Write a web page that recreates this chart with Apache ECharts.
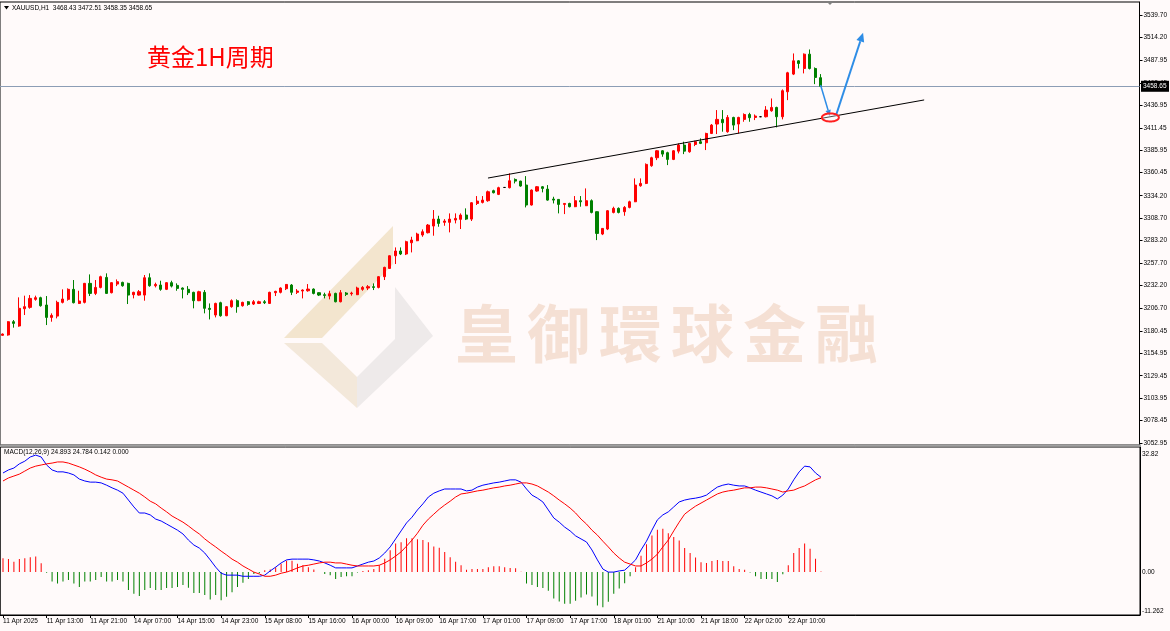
<!DOCTYPE html>
<html><head><meta charset="utf-8">
<script src="https://cdn.jsdelivr.net/npm/echarts@6/dist/echarts.min.js"></script>
<style>html,body{margin:0;padding:0;background:#fffafa;}#c{width:1170px;height:631px;}</style>
</head><body><div id="c"></div>
<script>
// ---------- DATA ----------
const tickLabels = ["11 Apr 2025","11 Apr 13:00","11 Apr 21:00","14 Apr 07:00","14 Apr 15:00","14 Apr 23:00","15 Apr 08:00","15 Apr 16:00","16 Apr 00:00","16 Apr 09:00","16 Apr 17:00","17 Apr 01:00","17 Apr 09:00","17 Apr 17:00","18 Apr 01:00","21 Apr 10:00","21 Apr 18:00","22 Apr 02:00","22 Apr 10:00"];
const opens = [
3175.4,3175.8,3190.9,3186.0,3205.7,3207.2,3216.3,3218.2,3209.9,3195.8,
3197.3,3212.9,3216.3,3227.7,3211.7,3212.9,3234.5,3223.1,3229.9,3241.3,
3223.9,3233.7,3235.6,3234.5,3221.6,3221.2,3221.2,3240.9,3231.8,3232.6,
3227.7,3235.3,3232.2,3229.2,3227.7,3224.3,3214.8,3224.3,3206.1,3198.5,
3212.5,3197.7,3208.0,3214.8,3209.1,3213.6,3211.0,3211.7,3213.6,3211.7,
3223.9,3224.3,3228.4,3232.6,3224.3,3225.8,3226.1,3228.0,3223.9,3221.6,
3220.1,3223.1,3213.6,3223.5,3222.7,3221.6,3227.7,3229.2,3230.7,3229.9,
3242.1,3251.5,3265.9,3271.3,3267.9,3280.7,3283.0,3289.5,3292.1,3299.7,
3307.6,3303.9,3303.9,3306.5,3307.3,3312.2,3307.6,3325.4,3326.6,3328.5,
3339.9,3335.7,3343.6,3343.3,3352.7,3350.8,3346.3,3323.6,3339.5,3344.4,
3341.7,3330.4,3330.0,3324.3,3325.4,3321.7,3328.5,3322.8,3328.5,3316.0,
3290.6,3296.3,3315.2,3319.8,3316.0,3320.9,3327.3,3345.5,3348.2,3368.3,
3377.4,3385.3,3383.1,3375.5,3384.9,3391.8,3384.2,3392.5,3395.6,3394.4,
3405.0,3415.7,3421.0,3407.0,3423.2,3415.7,3421.0,3426.6,3423.2,3424.0,
3424.0,3430.8,3434.6,3424.0,3452.4,3472.5,3487.6,3478.9,3495.2,3478.9,
3468.43];
const closes = [
3176.9,3190.9,3189.0,3206.1,3208.0,3217.4,3218.2,3209.1,3195.8,3198.1,
3212.9,3216.7,3227.7,3212.5,3214.4,3234.5,3223.1,3229.9,3242.1,3223.1,
3235.3,3236.4,3231.8,3221.2,3224.3,3225.0,3240.9,3231.8,3233.3,3227.7,
3235.3,3231.4,3228.8,3227.7,3223.9,3214.8,3225.0,3206.1,3204.9,3211.7,
3197.7,3208.0,3214.8,3208.0,3212.9,3210.6,3213.6,3213.6,3212.5,3224.3,
3225.4,3229.2,3233.3,3224.3,3225.8,3226.9,3228.0,3223.1,3221.2,3220.8,
3222.7,3213.6,3223.9,3222.0,3223.5,3229.2,3229.9,3230.7,3229.9,3242.1,
3252.7,3265.9,3271.3,3267.9,3281.9,3283.8,3290.6,3293.2,3300.8,3307.6,
3302.7,3305.4,3307.6,3308.4,3312.2,3307.6,3326.2,3328.1,3329.2,3338.7,
3337.6,3343.3,3343.6,3351.2,3350.8,3345.2,3323.6,3340.6,3344.4,3342.5,
3329.2,3329.2,3324.3,3325.4,3321.7,3328.5,3327.3,3328.5,3315.2,3291.3,
3297.0,3317.1,3319.8,3315.2,3320.9,3327.3,3346.3,3348.2,3369.8,3377.4,
3385.3,3381.5,3375.5,3385.3,3391.8,3384.9,3393.7,3395.6,3393.7,3405.0,
3414.5,3421.0,3417.2,3423.2,3414.5,3423.2,3426.6,3422.9,3424.8,3424.0,
3431.6,3434.6,3424.0,3453.6,3474.0,3487.6,3484.6,3495.2,3478.9,3468.7,
3458.65];
const lows = [
3174.8,3175.0,3184.1,3185.2,3198.5,3205.7,3214.8,3208.0,3187.1,3190.9,
3194.7,3211.7,3214.8,3211.7,3211.0,3211.7,3220.1,3221.2,3228.8,3222.5,
3223.1,3231.4,3230.7,3211.0,3217.4,3220.5,3214.8,3230.7,3229.9,3226.1,
3226.9,3229.9,3226.1,3217.4,3221.2,3206.1,3214.3,3200.4,3193.5,3195.8,
3196.6,3197.2,3206.8,3201.1,3208.0,3209.1,3209.9,3211.0,3211.0,3211.2,
3220.1,3223.1,3226.9,3221.2,3222.4,3217.4,3225.0,3222.0,3220.1,3217.4,
3216.3,3212.9,3212.9,3220.1,3220.5,3221.2,3226.1,3226.9,3226.9,3228.8,
3238.3,3250.8,3256.5,3266.7,3266.7,3269.7,3282.5,3287.5,3291.3,3288.7,
3298.9,3300.0,3292.5,3302.7,3296.3,3306.5,3305.4,3323.6,3325.4,3327.3,
3336.8,3334.9,3343.2,3342.5,3348.2,3344.4,3320.9,3323.0,3338.7,3338.0,
3328.5,3325.4,3314.1,3313.3,3320.9,3321.2,3321.7,3322.4,3314.1,3283.7,
3289.4,3295.1,3314.1,3314.1,3311.4,3319.8,3326.9,3344.4,3347.4,3367.1,
3374.7,3378.5,3369.0,3374.7,3382.3,3381.5,3383.1,3390.6,3392.9,3386.1,
3404.3,3404.3,3407.0,3405.8,3408.8,3405.0,3418.3,3418.3,3420.2,3423.6,
3423.2,3429.7,3411.9,3421.0,3442.9,3471.4,3478.9,3473.3,3477.8,3461.1,
3458.35];
const highs = [
3177.5,3191.5,3192.8,3218.6,3220.5,3221.2,3220.5,3219.3,3220.1,3200.4,
3214.8,3227.7,3228.8,3238.3,3226.1,3235.0,3244.7,3238.3,3243.2,3245.9,
3235.8,3239.0,3236.4,3235.3,3225.0,3226.9,3244.0,3245.9,3235.3,3237.5,
3235.8,3237.5,3234.5,3229.9,3231.4,3225.0,3226.1,3226.9,3211.7,3212.5,
3213.6,3208.7,3216.3,3216.3,3213.6,3214.4,3215.5,3214.8,3215.5,3225.0,
3226.1,3229.9,3233.7,3233.7,3228.0,3227.7,3233.7,3228.8,3224.3,3223.9,
3226.1,3223.9,3226.9,3224.6,3225.0,3230.7,3231.4,3232.6,3234.5,3242.8,
3253.4,3266.4,3275.4,3275.4,3283.0,3287.5,3292.1,3295.9,3302.0,3317.9,
3311.4,3307.6,3314.1,3314.1,3314.1,3319.8,3326.8,3333.8,3333.8,3340.0,
3341.0,3344.4,3344.0,3359.6,3353.9,3351.2,3356.5,3341.4,3345.2,3345.2,
3346.3,3333.0,3330.4,3325.8,3326.2,3333.8,3333.8,3342.5,3330.0,3316.4,
3297.4,3317.9,3321.7,3320.9,3322.4,3328.5,3353.9,3353.9,3370.9,3378.5,
3386.1,3386.1,3384.2,3386.1,3393.7,3395.6,3394.4,3396.7,3399.4,3405.8,
3415.7,3431.6,3431.6,3425.9,3424.0,3424.0,3427.8,3428.5,3426.6,3424.4,
3436.1,3444.8,3435.4,3455.1,3475.1,3496.0,3488.4,3496.0,3500.5,3480.1,
3472.51];
const macdDif = [
26.0,26.8,27.3,28.4,29.1,30.2,30.7,30.2,28.1,26.8,
26.3,26.3,26.0,25.5,24.4,23.9,23.6,23.6,23.4,22.8,
22.1,21.5,20.7,18.9,17.1,15.5,15.5,15.0,13.9,13.4,
12.6,11.8,11.0,10.0,8.4,7.1,6.3,5.0,3.2,1.3,
-0.3,-0.8,-0.8,-0.8,-1.1,-1.1,-1.1,-1.1,-0.8,0.3,
1.3,2.4,3.2,3.4,3.4,3.4,3.4,3.2,2.9,2.4,
1.8,1.1,1.1,1.1,1.1,1.6,2.1,2.6,2.9,3.7,
5.0,6.6,8.7,10.8,12.9,14.4,16.3,17.9,19.7,20.7,
21.3,21.8,21.8,21.8,21.8,21.3,21.5,22.3,22.8,23.1,
23.4,23.6,23.9,24.2,24.2,23.6,21.8,20.2,19.4,18.4,
16.3,14.2,13.1,11.8,10.8,9.5,8.7,7.9,5.8,3.2,
0.8,0.0,0.0,0.3,0.5,1.8,3.2,5.8,8.1,11.0,
13.7,15.0,15.8,17.1,18.4,18.9,19.2,19.4,19.7,20.2,
21.3,22.3,22.8,23.1,22.8,22.6,22.6,22.1,21.5,21.0,
20.5,20.0,19.2,20.2,21.8,24.2,26.3,27.8,27.6,26.0,
24.893];
const macdDea = [
23.9,24.7,25.2,25.7,26.5,27.3,27.8,28.1,28.4,28.6,
28.9,28.9,28.6,28.1,27.6,27.0,26.3,25.5,24.9,24.4,
24.2,23.9,23.1,22.3,21.5,20.7,19.7,18.6,17.9,16.8,
15.8,14.7,13.9,13.1,12.1,11.0,10.0,8.7,7.6,6.6,
5.5,4.5,3.4,2.6,1.6,0.8,0.0,-0.5,-1.1,-1.1,
-0.8,-0.3,0.0,0.5,1.1,1.6,1.8,2.1,2.4,2.6,
2.6,2.4,2.4,2.1,1.8,1.6,1.6,1.6,1.6,1.8,
2.4,3.2,4.2,5.3,6.8,8.4,10.2,12.3,13.9,15.2,
16.5,17.6,18.6,19.7,20.5,20.7,21.0,21.3,21.5,21.8,
22.1,22.3,22.6,22.8,23.1,23.4,23.4,23.1,22.6,21.8,
21.0,20.0,18.9,17.9,16.8,15.5,13.9,12.6,11.0,9.7,
8.1,6.6,5.0,3.7,2.6,2.1,1.6,1.6,2.4,3.4,
4.7,6.6,8.4,10.8,13.1,15.2,16.3,17.3,18.1,18.9,
19.7,20.5,21.0,21.3,21.5,21.8,22.1,22.1,22.3,22.3,
22.1,21.8,21.5,21.0,21.3,21.5,22.1,22.6,23.4,24.2,
24.784];
const macdHist = [
3.6,3.4,2.7,3.4,3.6,3.9,4.1,2.3,-0.2,-2.5,
-3.0,-2.5,-2.1,-3.0,-3.9,-2.5,-2.5,-2.1,-1.3,-2.5,
-2.5,-2.1,-2.5,-4.7,-5.7,-6.3,-4.7,-4.2,-4.7,-4.7,
-4.2,-4.2,-3.9,-3.4,-4.1,-5.5,-5.5,-6.0,-7.2,-6.0,
-7.4,-6.5,-5.3,-3.9,-2.8,-1.8,-0.5,-0.3,0.5,0.7,
1.3,2.2,3.0,3.0,2.2,1.8,1.3,0.7,0.0,-0.5,
-0.8,-1.8,-1.3,-1.1,-1.1,-0.1,0.3,0.5,0.8,1.8,
3.5,5.7,7.5,7.8,8.9,8.9,8.6,8.4,7.8,6.7,
6.4,5.3,3.9,2.7,1.8,0.6,0.8,0.8,0.8,1.3,
1.5,1.5,1.3,1.1,1.0,0.1,-3.0,-3.4,-3.9,-4.2,
-4.9,-6.9,-7.7,-8.3,-8.3,-7.5,-6.7,-5.9,-6.4,-8.8,
-9.2,-7.8,-5.7,-4.3,-2.9,-1.1,1.3,4.3,7.3,9.6,
11.1,11.4,10.2,9.2,8.3,6.3,5.0,3.8,2.6,2.4,
2.9,3.2,2.9,2.9,1.5,0.8,0.6,-0.1,-1.1,-1.8,
-1.8,-1.8,-2.6,-0.6,1.8,5.0,6.3,7.5,6.1,3.5,
0.142];
const priceTicks = [3539.70,3514.20,3487.95,3462.45,3436.95,3411.45,3385.95,3360.45,3334.20,3308.70,3283.20,3257.70,3232.20,3206.70,3180.45,3154.95,3129.45,3103.95,3078.45,3052.95];
const macdTicks = [32.82, 0, -11.262];
const macdTickLabels = ["32.82", "0.00", "-11.262"];
const currentPrice = 3458.65;
const headerText = "XAUUSD,H1  3468.43 3472.51 3458.35 3458.65";
const macdText = "MACD(12,26,9) 24.893 24.784 0.142 0.000";
const titleText = "黄金1H周期";
const watermarkText = "皇御環球金融";
// annotations (bar index, price)
const trendline = [[89, 3354.3], [169, 3443.1]];
const arrowDown = [[150, 3460.1], [151.7, 3424.8]];
const arrowUp = [[152.8, 3424.8], [157.8, 3519.6]];
const ringCenter = [151.8, 3423.2];

// ---------- LAYOUT ----------
const totalSlots = 209;
const labelEvery = 8;
const priceMin = 3050.68, priceMax = 3554.5;
const macdMin = -11.262, macdMax = 32.82;
const categories = Array.from({length: totalSlots}, (_, i) =>
  (i % labelEvery === 0 && i / labelEvery < tickLabels.length) ? tickLabels[i / labelEvery] : 'b' + i);
const isTick = (i) => i % labelEvery === 0 && i / labelEvery < tickLabels.length;
const candles = opens.map((o, i) => [o, closes[i], lows[i], highs[i]]);
const FONT = 'Liberation Sans';

const chart = echarts.init(document.getElementById('c'), null, {renderer: 'canvas'});
chart.setOption({
  animation: false,
  backgroundColor: '#fffafa',
  textStyle: {fontFamily: FONT},
  grid: [
    {left: 0, top: 2, width: 1140, height: 443, show: true, borderColor: '#000', borderWidth: 1, backgroundColor: 'transparent'},
    {left: 0, top: 447, width: 1140, height: 168, show: true, borderColor: '#000', borderWidth: 1, backgroundColor: 'transparent'}
  ],
  xAxis: [
    {type: 'category', gridIndex: 0, data: categories, boundaryGap: true,
     axisLine: {show: false, onZero: false}, axisTick: {show: false}, axisLabel: {show: false}, splitLine: {show: false}},
    {type: 'category', gridIndex: 1, data: categories, boundaryGap: true, position: 'bottom',
     axisLine: {show: true, onZero: false, lineStyle: {color: '#000', width: 1}},
     axisTick: {show: true, alignWithLabel: true, interval: isTick, length: 3, lineStyle: {color: '#000'}},
     axisLabel: {interval: isTick, formatter: v => v, align: 'left', fontSize: 6.5, color: '#000', margin: 3, fontFamily: FONT},
     splitLine: {show: false}}
  ],
  yAxis: [
    {type: 'value', gridIndex: 0, position: 'right', min: priceMin, max: priceMax, scale: true,
     axisLine: {show: true, lineStyle: {color: '#000'}},
     axisTick: {show: true, customValues: priceTicks, length: 3, lineStyle: {color: '#000'}},
     axisLabel: {customValues: priceTicks, formatter: v => v.toFixed(2), fontSize: 6.5, color: '#000', margin: 4, fontFamily: FONT},
     splitLine: {show: false}},
    {type: 'value', gridIndex: 1, position: 'right', min: macdMin, max: macdMax,
     axisLine: {show: true, lineStyle: {color: '#000'}},
     axisTick: {show: false},
     axisLabel: {customValues: macdTicks, fontSize: 6.5, color: '#000', margin: 2, fontFamily: FONT,
       formatter: v => {
         let k = 0, best = 1e9;
         macdTicks.forEach((t, j) => { if (Math.abs(t - v) < best) { best = Math.abs(t - v); k = j; } });
         return k === 0 ? '{t|' + macdTickLabels[k] + '}' : (k === 2 ? '{b|' + macdTickLabels[k] + '}' : macdTickLabels[k]);
       },
       rich: {t: {fontSize: 6.5, padding: [14, 0, 0, 0], fontFamily: FONT}, b: {fontSize: 6.5, padding: [0, 0, 8, 0], fontFamily: FONT}}},
     splitLine: {show: false}}
  ],
  series: [
    {type: 'candlestick', xAxisIndex: 0, yAxisIndex: 0, data: candles, barWidth: 2.6, z: 5,
     itemStyle: {color: '#ff0000', color0: '#008000', borderColor: '#ff0000', borderColor0: '#008000', borderColorDoji: '#000', borderWidth: 1},
     markLine: {silent: true, symbol: 'none', label: {show: false}, animation: false,
       lineStyle: {color: '#8c9db5', width: 1, type: 'solid'}, data: [{yAxis: currentPrice}]}},
    {type: 'line', xAxisIndex: 0, yAxisIndex: 0, data: trendline, symbol: 'none', z: 6,
     lineStyle: {color: '#000', width: 1}},
    {type: 'bar', xAxisIndex: 1, yAxisIndex: 1, data: macdHist, barWidth: 1, z: 3,
     itemStyle: {color: p => p.value >= 0 ? '#ff0000' : '#008000'}},
    {type: 'line', xAxisIndex: 1, yAxisIndex: 1, data: macdDif, symbol: 'none', z: 4,
     lineStyle: {color: '#0000ff', width: 1}},
    {type: 'line', xAxisIndex: 1, yAxisIndex: 1, data: macdDea, symbol: 'none', z: 4,
     lineStyle: {color: '#ff0000', width: 1}}
  ]
});

// ---------- ANNOTATIONS ----------
function toPx(idx, price) {
  const i0 = Math.floor(idx), f = idx - i0;
  const a = chart.convertToPixel({xAxisIndex: 0, yAxisIndex: 0}, [i0, price]);
  const b = chart.convertToPixel({xAxisIndex: 0, yAxisIndex: 0}, [i0 + 1, price]);
  return [a[0] + f * (b[0] - a[0]), a[1]];
}
function arrow(p, q, color, w, head) {
  const dx = q[0] - p[0], dy = q[1] - p[1], L = Math.hypot(dx, dy), ux = dx / L, uy = dy / L;
  const base = [q[0] - ux * head, q[1] - uy * head];
  const nx = -uy * head * 0.45, ny = ux * head * 0.45;
  return [
    {type: 'line', z: 20, shape: {x1: p[0], y1: p[1], x2: base[0], y2: base[1]}, style: {stroke: color, lineWidth: w}},
    {type: 'polygon', z: 20, shape: {points: [[q[0], q[1]], [base[0] + nx, base[1] + ny], [base[0] - nx, base[1] - ny]]}, style: {fill: color}}
  ];
}
const curY = chart.convertToPixel({yAxisIndex: 0}, currentPrice);
const rc = toPx(ringCenter[0], ringCenter[1]);
const ringPts = [];
for (let k = 0; k < 48; k++) { const a = k / 48 * Math.PI * 2; ringPts.push([rc[0] + 8.5 * Math.cos(a), rc[1] + 4 * Math.sin(a)]); }

const wmColor = '#f5e0d4';
const wmChars = watermarkText.split('').map((ch, k) => ({
  type: 'text', z: 0, x: 455 + k * 72, y: 333,
  style: {text: ch, fill: wmColor, font: 'bold 63px "Noto Sans CJK TC"', textVerticalAlign: 'middle', textAlign: 'left'}
}));

chart.setOption({graphic: [
  // watermark logo
  {type: 'polygon', z: 0, shape: {points: [[284, 338], [393, 226], [393, 264], [322, 338]]}, style: {fill: '#f3e5ce'}},
  {type: 'polygon', z: 0, shape: {points: [[284, 343], [322, 343], [357, 377], [357, 408]]}, style: {fill: '#f3e8da'}},
  {type: 'polygon', z: 0, shape: {points: [[357, 408], [357, 377], [395, 339], [395, 287], [433, 336]]}, style: {fill: '#eeeaea'}},
  ...wmChars,
  // header
  {type: 'polygon', z: 30, shape: {points: [[4, 6], [9, 6], [6.5, 9.5]]}, style: {fill: '#000'}},
  {type: 'text', z: 30, x: 12, y: 8, style: {text: headerText, fill: '#000', font: '6.5px "' + FONT + '"', textVerticalAlign: 'middle'}},
  {type: 'text', z: 30, x: 4, y: 452, style: {text: macdText, fill: '#000', font: '6.5px "' + FONT + '"', textVerticalAlign: 'middle'}},
  {type: 'text', z: 30, x: 147, y: 57, style: {text: titleText, fill: '#ff0000', font: '24px "Noto Sans CJK SC"', textVerticalAlign: 'middle'}},
  // panel separator and chart-shift marker
  {type: 'rect', z: 30, shape: {x: 0, y: 444.5, width: 1141, height: 2}, style: {fill: '#a0a0a0'}},
  {type: 'polygon', z: 30, shape: {points: [[826, 1], [834, 1], [830, 5]]}, style: {fill: '#808080'}},
  // current price box
  {type: 'rect', z: 30, shape: {x: 1141, y: curY - 5.5, width: 28, height: 11}, style: {fill: '#000'}},
  {type: 'text', z: 31, x: 1143, y: curY, style: {text: currentPrice.toFixed(2), fill: '#fff', font: '6.5px "' + FONT + '"', textVerticalAlign: 'middle'}},
  // ring + arrows
  {type: 'polygon', z: 21, shape: {points: ringPts}, style: {fill: 'rgba(255,255,255,0.3)', stroke: '#ff2020', lineWidth: 2}},
  ...arrow(toPx(arrowDown[0][0], arrowDown[0][1]), toPx(arrowDown[1][0], arrowDown[1][1]), '#2e8de6', 1.5, 6),
  ...arrow(toPx(arrowUp[0][0], arrowUp[0][1]), toPx(arrowUp[1][0], arrowUp[1][1]), '#2e8de6', 2, 9)
]});
</script>
</body></html>
